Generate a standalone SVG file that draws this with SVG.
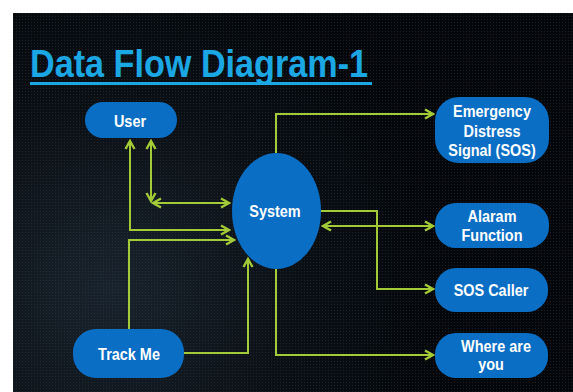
<svg xmlns="http://www.w3.org/2000/svg" width="573" height="392" viewBox="0 0 573 392">
  <defs>
    <radialGradient id="bgGlow" cx="110" cy="290" r="330" gradientUnits="userSpaceOnUse">
      <stop offset="0" stop-color="#19232d"/>
      <stop offset="0.55" stop-color="#0b1015"/>
      <stop offset="1" stop-color="#05070a"/>
    </radialGradient>
    <pattern id="dots" width="3" height="3" patternUnits="userSpaceOnUse">
      <rect x="1" y="1" width="1" height="1" fill="#3a4a5a" opacity="0.35"/>
    </pattern>
    <marker id="arrow" markerUnits="userSpaceOnUse" markerWidth="12" markerHeight="12" viewBox="-10 -6 12 12" refX="0" refY="0" orient="auto-start-reverse">
      <path d="M-8,-4.5 L0,0 L-8,4.5" fill="none" stroke="#a3cb38" stroke-width="2.4" stroke-linejoin="miter"/>
    </marker>
  </defs>
  <style>
    .node { fill: #0b6ec5; }
    .label { font-family: "Liberation Sans", Arial, sans-serif; font-weight: bold; font-size: 17px; fill: #ffffff; text-anchor: middle; }
    .flow { fill: none; stroke: #a3cb38; stroke-width: 2; marker-end: url(#arrow); }
    .both { marker-start: url(#arrow); }
  </style>

  <!-- backdrop -->
  <rect x="0" y="0" width="573" height="392" fill="#ffffff"/>
  <rect x="13" y="13" width="560" height="379" fill="url(#bgGlow)"/>
  <rect x="13" y="13" width="560" height="379" fill="url(#dots)"/>

  <!-- heading -->
  <g id="title">
    <text transform="translate(30,77) scale(0.9,1)" font-family="'Liberation Sans', Arial, sans-serif" font-weight="bold" font-size="38" fill="#1aa7e4">Data Flow Diagram-1</text>
    <rect x="30" y="82" width="342" height="3" fill="#1aa7e4"/>
  </g>

  <!-- data flows -->
  <g id="connectors">
    <path class="flow both" d="M151,141 V201"/>
    <path class="flow both" d="M153,203 H229"/>
    <path class="flow both" d="M130,141 V230 H229"/>
    <path class="flow" d="M129,329 V240 H234"/>
    <path class="flow" d="M184,353 H248 V259"/>
    <path class="flow" d="M276,153 V114 H433"/>
    <path class="flow" d="M321,211 H377 V289 H433"/>
    <path class="flow both" d="M323,226 H433"/>
    <path class="flow" d="M276,269 V355 H433"/>
  </g>

  <g id="user">
    <rect class="node" x="85" y="102" width="92" height="36" rx="18"/>
    <text class="label" transform="translate(130,127) scale(0.85,1)">User</text>
  </g>

  <g id="track-me">
    <rect class="node" x="73" y="329" width="111" height="49" rx="23"/>
    <text class="label" transform="translate(129,360) scale(0.85,1)">Track Me</text>
  </g>

  <g id="system">
    <ellipse class="node" cx="276.5" cy="211" rx="44.5" ry="58"/>
    <text class="label" transform="translate(275,217) scale(0.85,1)">System</text>
  </g>

  <g id="sos-signal">
    <rect class="node" x="435" y="97" width="114" height="66" rx="24"/>
    <text class="label" transform="translate(492,117) scale(0.85,1)">Emergency</text>
    <text class="label" transform="translate(492,137) scale(0.85,1)">Distress</text>
    <text class="label" transform="translate(492,156) scale(0.85,1)">Signal (SOS)</text>
  </g>

  <g id="alarm">
    <rect class="node" x="435" y="203" width="114" height="45" rx="21"/>
    <text class="label" transform="translate(492,222) scale(0.85,1)">Alaram</text>
    <text class="label" transform="translate(492,241) scale(0.85,1)">Function</text>
  </g>

  <g id="sos-caller">
    <rect class="node" x="435" y="268" width="113" height="44" rx="21"/>
    <text class="label" transform="translate(491,296) scale(0.85,1)">SOS Caller</text>
  </g>

  <g id="where-are-you">
    <rect class="node" x="435" y="333" width="113" height="45" rx="21"/>
    <text class="label" transform="translate(496,352) scale(0.85,1)">Where are</text>
    <text class="label" transform="translate(491,370) scale(0.85,1)">you</text>
  </g>
</svg>
